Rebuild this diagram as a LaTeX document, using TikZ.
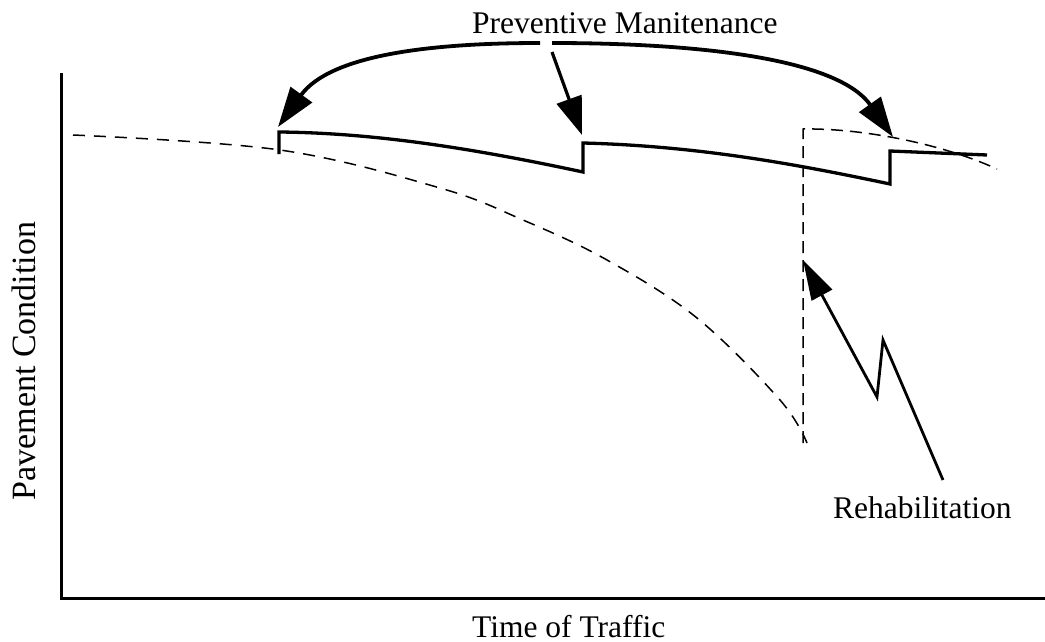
\documentclass[tikz,border=0pt]{standalone}
\usepackage{fontspec}
\setmainfont{Liberation Serif}
\usetikzlibrary{arrows.meta}
\tikzset{
  axisline/.style={line width=3pt},
  sawline/.style={line width=3.3pt, line join=miter},
  dashline/.style={line width=1.5pt, dash pattern=on 12pt off 9pt},
  vdashline/.style={line width=1.5pt, dash pattern=on 12pt off 7pt},
  bigarrow/.style={line width=3.8pt, -{Triangle[length=40pt,width=26pt]}},
  midarrow/.style={line width=3.2pt, -{Triangle[length=38pt,width=26pt]}},
  rehabarrow/.style={line width=2.8pt, line join=miter, -{Triangle[length=40pt,width=23pt]}},
  lbl/.style={font=\fontsize{31.5}{36}\selectfont, inner sep=0pt}
}
\begin{document}
\begin{tikzpicture}[x=1pt,y=-1pt]
\useasboundingbox (0,0) rectangle (1045,642);
% axes
\coordinate (ytop) at (61,73);
\coordinate (orig) at (61,598);
\coordinate (xend) at (1045,598);
\draw[axisline] (ytop) -- (orig) -- (xend);
% labels
\node[lbl, anchor=base west] (pm) at (472,34) {Preventive Manitenance};
\node[lbl, anchor=base west] (tt) at (472,637) {Time of Traffic};
\node[lbl, anchor=base, rotate=90, font=\fontsize{34}{38}\selectfont] (pc) at (35,361) {Pavement Condition};
\node[lbl, anchor=base west] (rh) at (833,518) {Rehabilitation};
% main deterioration curve (dashed)
\draw[dashline] plot[smooth, tension=0.6] coordinates {(73,135) (280,150) (440,188) (523,220) (607,260) (697,318) (780,400) (807,443)};
% rehabilitation jump and new curve
\coordinate (rb) at (803,443);
\coordinate (rt) at (803,129);
\coordinate (re) at (997,169);
\draw[vdashline] (rb) -- (rt) .. controls (860,128) and (940,143) .. (re);
% preventive maintenance sawtooth
\coordinate (s0) at (279,154);
\coordinate (s1) at (279,132);
\coordinate (s2) at (583,172);
\coordinate (s3) at (583,143);
\coordinate (s4) at (890,184);
\coordinate (s5) at (890,151);
\coordinate (s6) at (987,155);
\draw[sawline] (s0) -- (s1) .. controls (380,133) and (480,150) .. (s2) -- (s3) .. controls (700,146) and (800,165) .. (s4) -- (s5) -- (s6);
% preventive maintenance arrows
\coordinate (al) at (540,43);
\coordinate (ar) at (552,43);
\coordinate (am) at (552,52);
\coordinate (t1) at (278,127);
\coordinate (t2) at (582,135);
\coordinate (t3) at (893,137);
\draw[bigarrow] (al) .. controls (430,43) and (330,55) .. (t1);
\draw[bigarrow] (ar) .. controls (680,43) and (835,55) .. (t3);
\draw[midarrow] (am) -- (t2);
% rehabilitation arrow
\coordinate (z0) at (943,480);
\coordinate (z1) at (883,340);
\coordinate (z2) at (877,397);
\coordinate (z3) at (803,260);
\draw[rehabarrow] (z0) -- (z1) -- (z2) -- (z3);
\end{tikzpicture}
\end{document}
